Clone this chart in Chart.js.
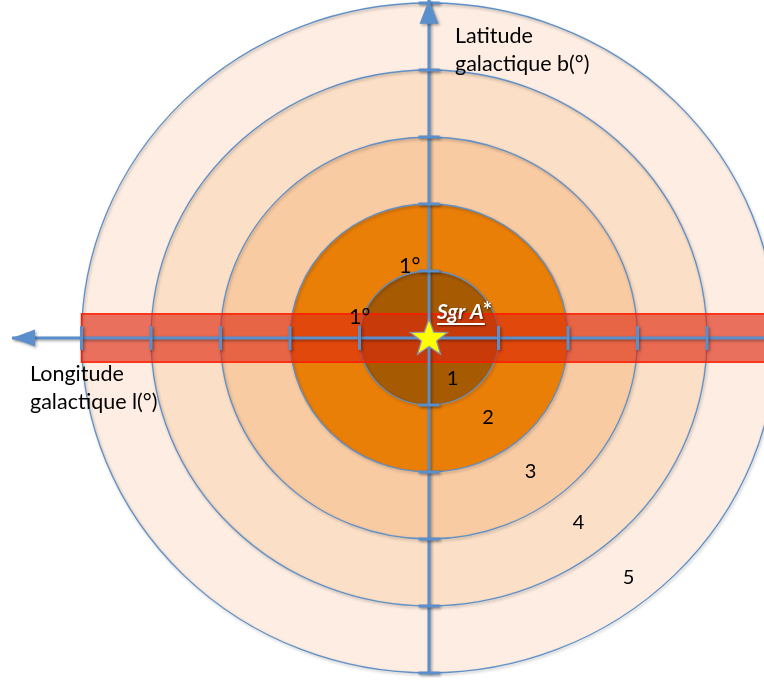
<!DOCTYPE html>
<html><head><meta charset="utf-8">
<script src="https://cdn.jsdelivr.net/npm/chart.js@4"></script>
<style>html,body{margin:0;padding:0;background:#fff}canvas{display:block}</style>
</head><body>
<canvas id="c" width="764" height="685"></canvas>
<script>
// ---- data (degrees) ----
const ringRadii = [1, 2, 3, 4, 5];
const ringLabels = ['1', '2', '3', '4', '5'];
const lonTicks = [5, 4, 3, 2, 1, -1, -2, -3, -4];
const latTicks = [5, 4, 3, 2, 1, -1, -2, -3, -4, -5];
const bandLon = [5, -6];          // galactic plane band, longitude extent
const bandLat = [0.36, -0.36];    // galactic plane band, latitude extent
const lonAxis = [6, -6];          // l axis from arrow tip to right
const latAxis = [-5, 5.05];       // b axis from bottom to arrow tip
const sourceName = 'Sgr A';
const sourceMark = '*';
const sourcePos = [0, 0];
const axisTitles = ['Longitude', 'galactique l(°)', 'Latitude', 'galactique b(°)'];
const unitLabel = '1°';

// ---- styles / layout ----
const ringFill = ['#a65a02', '#ea7f08', '#f9cba3', '#fbdfc7', '#fdede2'];
const ringStroke = '#5f90c8';
const axisColor = '#5b8fcc';
const ringLabelPos = [[-0.34, -0.61], [-0.85, -1.18], [-1.46, -1.99], [-2.15, -2.75], [-2.87, -3.58]];
const FONT = 'Lato, "DejaVu Sans", sans-serif';

function makeStar() {
  const c = document.createElement('canvas');
  c.width = 46; c.height = 46;
  const g = c.getContext('2d');
  const R = 19.5, r = 8, cx = 23, cy = 23.5;
  g.beginPath();
  for (let i = 0; i < 10; i++) {
    const rad = (i % 2 === 0) ? R : r;
    const a = -Math.PI / 2 + i * Math.PI / 5;
    const px = cx + rad * Math.cos(a), py = cy + rad * Math.sin(a);
    if (i === 0) g.moveTo(px, py); else g.lineTo(px, py);
  }
  g.closePath();
  g.fillStyle = '#ffff00';
  g.fill();
  g.lineWidth = 1.3;
  g.strokeStyle = '#8a94a8';
  g.stroke();
  return c;
}

const shadowPlugin = {
  id: 'shadow',
  beforeDatasetDraw(chart, args) {
    const ctx = chart.ctx;
    ctx.save();
    if (args.index >= 1) {
      ctx.shadowColor = 'rgba(0,0,0,0.35)';
      ctx.shadowBlur = 3;
      ctx.shadowOffsetX = 1.5;
      ctx.shadowOffsetY = 1.5;
    }
  },
  afterDatasetDraw(chart) { chart.ctx.restore(); }
};

const galaxyPlugin = {
  id: 'galaxy',
  beforeDatasetsDraw(chart) {
    const { ctx, scales: { x, y } } = chart;
    const cx = x.getPixelForValue(0), cy = y.getPixelForValue(0);
    ctx.save();
    for (let i = ringRadii.length - 1; i >= 0; i--) {
      const r = ringRadii[i];
      const rx = Math.abs(x.getPixelForValue(r) - cx);
      const ry = Math.abs(y.getPixelForValue(r) - cy);
      ctx.beginPath();
      ctx.ellipse(cx, cy, rx, ry, 0, 0, Math.PI * 2);
      ctx.fillStyle = ringFill[i];
      ctx.fill();
      ctx.save();
      ctx.shadowColor = 'rgba(0,0,0,0.3)';
      ctx.shadowBlur = 3;
      ctx.shadowOffsetX = 1;
      ctx.shadowOffsetY = 1.5;
      ctx.lineWidth = 1.3;
      ctx.strokeStyle = ringStroke;
      ctx.stroke();
      ctx.restore();
    }
    // galactic plane band
    const x1 = x.getPixelForValue(bandLon[0]), x2 = x.getPixelForValue(bandLon[1]);
    const y1 = y.getPixelForValue(bandLat[0]), y2 = y.getPixelForValue(bandLat[1]);
    ctx.fillStyle = 'rgba(220,39,14,0.63)';
    ctx.fillRect(x1, y1, x2 - x1, y2 - y1);
    ctx.lineWidth = 1.5;
    ctx.strokeStyle = '#ff1a00';
    ctx.strokeRect(x1, y1, x2 - x1, y2 - y1);
    ctx.restore();
  },
  afterDatasetsDraw(chart) {
    const { ctx, scales: { x, y } } = chart;
    ctx.save();
    ctx.shadowColor = 'rgba(0,0,0,0.35)';
    ctx.shadowBlur = 3;
    ctx.shadowOffsetX = 1.5;
    ctx.shadowOffsetY = 1.5;
    ctx.fillStyle = axisColor;
    // l arrow (points left)
    let tx = x.getPixelForValue(lonAxis[0]), ty = y.getPixelForValue(0);
    ctx.beginPath();
    ctx.moveTo(tx, ty);
    ctx.lineTo(tx + 23, ty - 8.5);
    ctx.lineTo(tx + 23, ty + 8.5);
    ctx.closePath();
    ctx.fill();
    // b arrow (points up)
    tx = x.getPixelForValue(0); ty = y.getPixelForValue(latAxis[1]);
    ctx.beginPath();
    ctx.moveTo(tx, ty);
    ctx.lineTo(tx - 9.5, ty + 24);
    ctx.lineTo(tx + 9.5, ty + 24);
    ctx.closePath();
    ctx.fill();
    ctx.restore();

    // texts
    ctx.save();
    ctx.fillStyle = '#000';
    ctx.textBaseline = 'alphabetic';
    ctx.textAlign = 'left';
    ctx.font = '21.5px ' + FONT;
    ctx.fillText(axisTitles[0], 30, 381);
    ctx.fillText(axisTitles[1], 30, 409);
    ctx.fillText(axisTitles[2], 455, 43);
    ctx.fillText(axisTitles[3], 455, 71);
    // unit labels
    ctx.fillText(unitLabel, 399, 273);
    ctx.fillText(unitLabel, 349, 324);
    // ring labels
    ctx.textAlign = 'center';
    ctx.textBaseline = 'middle';
    ctx.font = '20px ' + FONT;
    for (let i = 0; i < ringLabels.length; i++) {
      const p = ringLabelPos[i];
      ctx.fillText(ringLabels[i], x.getPixelForValue(p[0]), y.getPixelForValue(p[1]));
    }
    // source label
    const sx = x.getPixelForValue(sourcePos[0]) + 8, sy = y.getPixelForValue(sourcePos[1]) - 19;
    ctx.textAlign = 'left';
    ctx.textBaseline = 'alphabetic';
    ctx.font = 'italic bold 21px ' + FONT;
    ctx.shadowColor = 'rgba(0,0,0,0.6)';
    ctx.shadowBlur = 2;
    ctx.shadowOffsetX = 1;
    ctx.shadowOffsetY = 1;
    ctx.fillStyle = '#ffffff';
    ctx.fillText(sourceName, sx, sy);
    const w = ctx.measureText(sourceName).width;
    ctx.font = 'bold 22px ' + FONT;
    ctx.fillText(sourceMark, sx + w - 1, sy - 1);
    ctx.fillRect(sx, sy + 4, w + 1, 2);
    ctx.restore();
  }
};

const pxLon = 69.5, pxLat = 67, cxp = 429, cyp = 338;

new Chart(document.getElementById('c'), {
  type: 'scatter',
  data: {
    datasets: [
      { data: [{ x: sourcePos[0], y: sourcePos[1] }], pointStyle: makeStar(), pointRadius: 20, order: 0 },
      { data: lonTicks.map(v => ({ x: v, y: 0 })), pointStyle: 'line', rotation: 90, pointRadius: 12,
        pointBorderWidth: 3, pointBorderColor: axisColor, order: 1 },
      { data: latTicks.map(v => ({ x: 0, y: v })), pointStyle: 'line', rotation: 0, pointRadius: 10.5,
        pointBorderWidth: 3, pointBorderColor: axisColor, order: 1 },
      { data: lonAxis.map(v => ({ x: v, y: 0 })), showLine: true, borderColor: axisColor, borderWidth: 3,
        pointRadius: 0, order: 2 },
      { data: latAxis.map(v => ({ x: 0, y: v })), showLine: true, borderColor: axisColor, borderWidth: 3,
        pointRadius: 0, order: 2 }
    ]
  },
  options: {
    responsive: false,
    devicePixelRatio: 1,
    animation: false,
    layout: { padding: 0, autoPadding: false },
    plugins: { legend: { display: false }, tooltip: { enabled: false } },
    events: [],
    scales: {
      x: { type: 'linear', display: false, reverse: true,
           min: -(764 - cxp) / pxLon, max: cxp / pxLon },
      y: { type: 'linear', display: false,
           min: -(685 - cyp) / pxLat, max: cyp / pxLat }
    }
  },
  plugins: [shadowPlugin, galaxyPlugin]
});
</script>
</body></html>
